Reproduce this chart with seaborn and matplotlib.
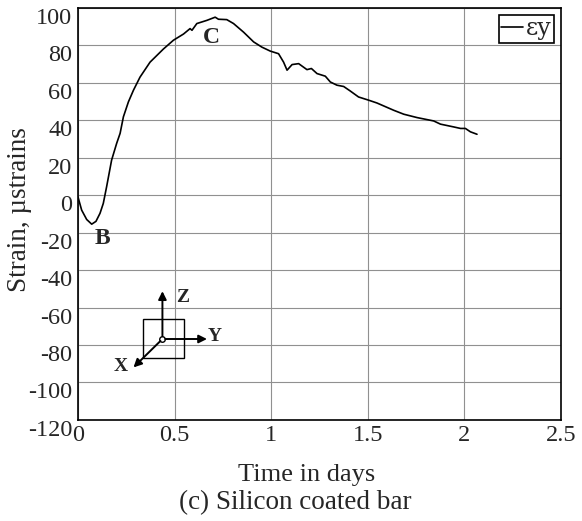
import matplotlib
matplotlib.use("Agg")
import matplotlib.pyplot as plt
import seaborn as sns
import pandas as pd

# strain readings
days = [0.0, 0.019, 0.045, 0.071, 0.093, 0.114, 0.131, 0.148, 0.174, 0.2,
        0.218, 0.235, 0.261, 0.287, 0.321, 0.373, 0.442, 0.494, 0.546, 0.580,
        0.590, 0.615, 0.667, 0.710, 0.727, 0.77, 0.805, 0.857, 0.909, 0.952,
        0.995, 1.038, 1.064, 1.082, 1.108, 1.142, 1.185, 1.208, 1.237, 1.280,
        1.306, 1.340, 1.375, 1.409, 1.452, 1.504, 1.547, 1.634, 1.686, 1.755,
        1.841, 1.876, 1.945, 1.98, 2.005, 2.031, 2.065]
strain = [-1, -8, -13, -15.5, -14, -9.7, -4.4, 4.4, 18.7, 27.6,
          33, 41.8, 49.8, 56, 63, 71, 78, 82.7, 86, 88.9,
          88.0, 91.6, 93.3, 95, 93.9, 93.7, 91.6, 87, 81.8, 79,
          76.9, 75.5, 71, 66.7, 69.7, 70.2, 67, 67.6, 64.9, 63.5,
          60.4, 58.7, 58, 55.6, 52.4, 50.7, 49.2, 45.3, 43.2, 41.4,
          39.6, 37.9, 36.4, 35.6, 35.6, 33.8, 32.5]

xticks = [0, 0.5, 1, 1.5, 2, 2.5]
xticklabels = ["0", "0.5", "1", "1.5", "2", "2.5"]
yticks = list(range(-120, 101, 20))

df = pd.DataFrame({"days": days, "strain": strain})

sns.set_style("white")
plt.rcParams["font.family"] = ["Liberation Serif", "DejaVu Serif"]
plt.rcParams["axes.unicode_minus"] = False

fig = plt.figure(figsize=(5.82, 5.21), dpi=100)
ax = fig.add_axes([0.134, 0.194, 0.830, 0.791])

sns.lineplot(data=df, x="days", y="strain", color="black", lw=1.2,
             label="εy", ax=ax)

ax.set_xlim(0, 2.5)
ax.set_ylim(-120, 100)
ax.set_xticks(xticks)
ax.set_xticklabels(xticklabels)
ax.set_yticks(yticks)
ax.grid(True, color="#909090", lw=0.8)
for s in ax.spines.values():
    s.set_color("black")
    s.set_linewidth(1.2)
ax.tick_params(labelsize=17.5, length=0)
ax.tick_params(axis="x", pad=4)
ax.tick_params(axis="y", pad=4)
for lab in ax.get_yticklabels():
    lab.set_verticalalignment("top")
ax.set_xlabel("Time in days", fontsize=19)
ax.xaxis.set_label_coords(0.474, -0.107)
ax.set_ylabel("Strain, µstrains", fontsize=19.5)
ax.yaxis.set_label_coords(-0.095, 0.51)

leg = ax.legend(loc="upper right", prop={"family": "DejaVu Serif", "size": 17},
                handlelength=0.95, handletextpad=0.1, borderpad=0.1,
                borderaxespad=0.3, fancybox=False, framealpha=1)
leg.get_frame().set_edgecolor("black")
leg.get_frame().set_linewidth(1.2)

# point labels
ax.text(0.129, -23, "B", fontsize=17, fontweight="bold", ha="center", va="center")
ax.text(0.692, 84.3, "C", fontsize=17, fontweight="bold", ha="center", va="center")

# coordinate icon
ax.add_patch(plt.Rectangle((0.334, -87.1), 0.215, 20.8, fill=False,
                           ec="black", lw=1))
arr = dict(arrowstyle="-|>", color="black", lw=1.4, mutation_scale=12)
ax.annotate("", xy=(0.437, -49.8), xytext=(0.437, -76.8), arrowprops=arr)
ax.annotate("", xy=(0.682, -76.8), xytext=(0.437, -76.8), arrowprops=arr)
ax.annotate("", xy=(0.277, -93), xytext=(0.437, -76.8), arrowprops=arr)
ax.plot([0.437], [-76.8], "o", mfc="white", mec="black", ms=4, mew=1)
ax.text(0.542, -54.4, "Z", fontsize=14, fontweight="bold", ha="center", va="center")
ax.text(0.708, -75.7, "Y", fontsize=14, fontweight="bold", ha="center", va="center")
ax.text(0.222, -91.7, "X", fontsize=14, fontweight="bold", ha="center", va="center")

fig.text(0.507, 0.036, "(c) Silicon coated bar", fontsize=19.5, ha="center",
         va="center")

fig.savefig("out.png", dpi=100)
